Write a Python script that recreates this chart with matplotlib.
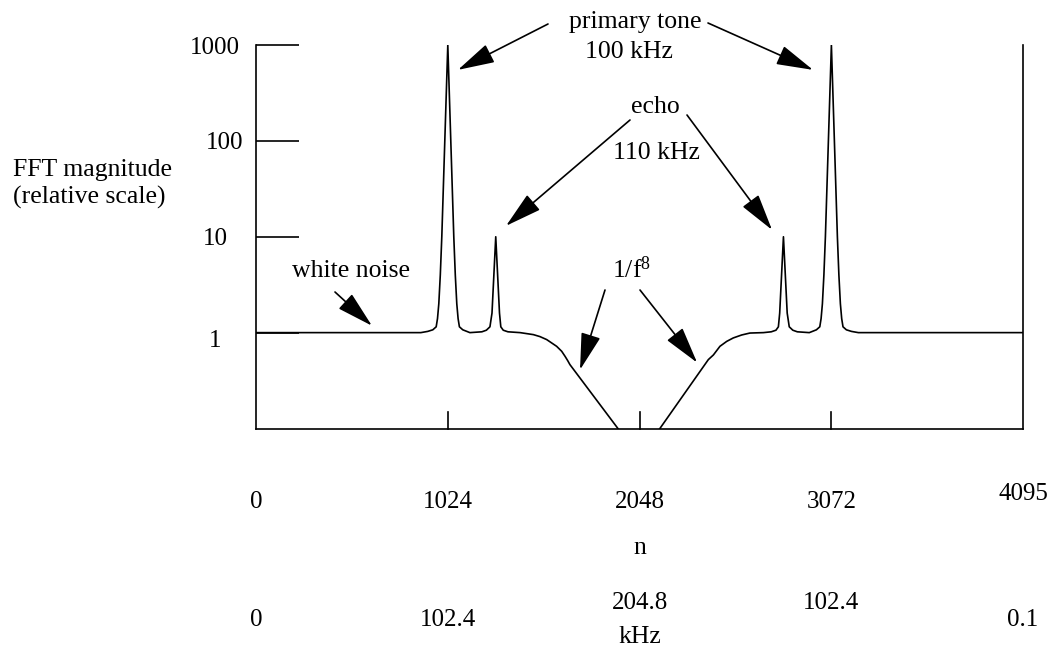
import matplotlib
matplotlib.use("Agg")
import matplotlib.pyplot as plt
from matplotlib.ticker import NullLocator
from matplotlib.transforms import ScaledTranslation

# ---------------- data ----------------
n_bins = [0, 880, 917, 944, 962, 969, 976, 984, 992, 1008, 1024, 1040, 1056, 1064,
          1072, 1079, 1086, 1104, 1142, 1206, 1230, 1249, 1260, 1270, 1280, 1290,
          1300, 1307, 1320, 1345, 1410, 1481, 1516, 1552, 1605, 1632, 1650, 1664,
          1676, 2048,
          2415, 2442, 2477, 2513, 2548, 2593, 2637, 2709, 2751, 2776, 2789, 2796,
          2806, 2816, 2826, 2836, 2847, 2866, 2890, 2954, 2992, 3010, 3017, 3024,
          3032, 3040, 3056, 3072, 3088, 3104, 3112, 3120, 3127, 3134, 3152, 3179,
          3216, 4095]
magnitude = [1.0, 1.0, 1.03, 1.07, 1.15, 1.4, 2.0, 4.0, 10, 100, 1000, 100, 10, 4.0,
             2.0, 1.4, 1.15, 1.07, 1.0, 1.02, 1.06, 1.15, 1.6, 4.0, 10, 4.0,
             1.6, 1.15, 1.06, 1.02, 1.0, 0.953, 0.909, 0.846, 0.72, 0.639, 0.566, 0.511,
             0.464, 0.05,
             0.523, 0.585, 0.72, 0.81, 0.88, 0.945, 0.99, 1.0, 1.02, 1.06, 1.15, 1.6,
             4.0, 10, 4.0, 1.6, 1.15, 1.06, 1.02, 1.0, 1.07, 1.15, 1.4, 2.0,
             4.0, 10, 100, 1000, 100, 10, 4.0, 2.0, 1.4, 1.15, 1.07, 1.03,
             1.0, 1.0]

y_ticks = [1, 10, 100, 1000]
y_tick_labels = ["1", "10", "100", "1000"]
n_ticks = [0, 1024, 2048, 3072, 4095]
n_tick_labels = ["0", "1024", "2048", "3072", "4095"]
khz_labels = ["0", "102.4", "204.8", "102.4", "0.1"]
inner_ticks = [1024, 2048, 3072]

# annotation targets (n, magnitude)
tone_targets = [(1078, 550), (2974, 550)]
echo_targets = [(1335, 13.0), (2755, 11.8)]
rolloff_targets = [(1730, 0.41), (2355, 0.487)]
noise_target = (619, 1.18)

# ---------------- figure ----------------
W, H = 1051, 650
FONT = "Liberation Serif"
FS = 18        # tick labels
FA = 18.5      # titles / annotations
plt.rcParams["font.family"] = [FONT, "DejaVu Serif"]
plt.rcParams["mathtext.fontset"] = "custom"
plt.rcParams["mathtext.rm"] = FONT
plt.rcParams["mathtext.it"] = FONT

fig = plt.figure(figsize=(W / 100, H / 100), dpi=100)


def fp(x, y):
    """top-left pixel -> figure fraction"""
    return (x / W, 1 - y / H)


def shift(artist, dx_px, dy_px):
    artist.set_transform(artist.get_transform() +
                         ScaledTranslation(dx_px / 100, -dy_px / 100,
                                           fig.dpi_scale_trans))


ax_l, ax_r, ax_t, ax_b = 256, 1023, 45, 428.5
ax = fig.add_axes([ax_l / W, 1 - ax_b / H, (ax_r - ax_l) / W, (ax_b - ax_t) / H])

ax.plot(n_bins, magnitude, color="black", lw=1.2, solid_joinstyle="round")
ax.set_yscale("log")
ax.set_ylim(0.1, 1000)
ax.set_xlim(0, 4095)

for s in ["left", "right", "bottom"]:
    ax.spines[s].set_linewidth(1.2)
ax.spines["top"].set_visible(False)

# y ticks
ax.yaxis.set_minor_locator(NullLocator())
ax.set_yticks(y_ticks)
ax.set_yticklabels(y_tick_labels, fontsize=FS)
ax.tick_params(axis="y", direction="in", length=31, width=1.2, pad=29.5)
ylbls = ax.get_yticklabels()
for lab in ylbls:
    lab.set_horizontalalignment("center")
shift(ylbls[0], 0, 6)      # "1" sits a little low
shift(ylbls[2], 10, 0)     # "100" sits further right

# x ticks (n row)
ax.xaxis.set_minor_locator(NullLocator())
ax.set_xticks(n_ticks)
ax.set_xticklabels(n_tick_labels, fontsize=FS)
ax.tick_params(axis="x", direction="in", length=0, pad=45)
for n in inner_ticks:
    ax.plot([n, n], [0.1, 0.1 * 10 ** (17 / 96)], color="black", lw=1.2,
            clip_on=False)
xlbls = ax.get_xticklabels()
shift(xlbls[4], 0, -8)     # 4095 sits higher

fig.text(*fp(640, 548), "n", fontsize=FA, ha="center", va="center")

# kHz row
khz_dy = [0, 0, -17, -17, 0]
for n, lab, dy in zip(n_ticks, khz_labels, khz_dy):
    fig.text((ax_l + n / 4095 * (ax_r - ax_l)) / W, 1 - (620 + dy) / H, lab,
             fontsize=FS, ha="center", va="center")
fig.text(*fp(640, 637), "kHz", fontsize=FA, ha="center", va="center")

# y axis title
fig.text(*fp(13, 170), "FFT magnitude", fontsize=FA, ha="left", va="center")
fig.text(*fp(13, 197), "(relative scale)", fontsize=FA, ha="left", va="center")

# annotations
arrow = dict(arrowstyle="-|>,head_length=1.15,head_width=0.31", color="black",
             lw=1.2, shrinkA=0, shrinkB=0, mutation_scale=20)


def arr(tip, tail):
    ax.annotate("", xy=tip, xycoords="data", xytext=fp(*tail),
                textcoords="figure fraction", arrowprops=arrow)


fig.text(*fp(635, 22), "primary tone", fontsize=FA, ha="center", va="center")
fig.text(*fp(629, 52), "100 kHz", fontsize=FA, ha="center", va="center")
arr(tone_targets[0], (548, 24))
arr(tone_targets[1], (708, 23))

fig.text(*fp(655, 107), "echo", fontsize=FA, ha="center", va="center")
fig.text(*fp(656, 153), "110 kHz", fontsize=FA, ha="center", va="center")
arr(echo_targets[0], (630, 120))
arr(echo_targets[1], (687, 115))

fig.text(*fp(632, 270), r"1/f$^{8}$", fontsize=FA, ha="center", va="center")
arr(rolloff_targets[0], (605, 290))
arr(rolloff_targets[1], (640, 290))

fig.text(*fp(351, 271), "white noise", fontsize=FA, ha="center", va="center")
arr(noise_target, (335, 292))

fig.savefig("out.png", dpi=100)
